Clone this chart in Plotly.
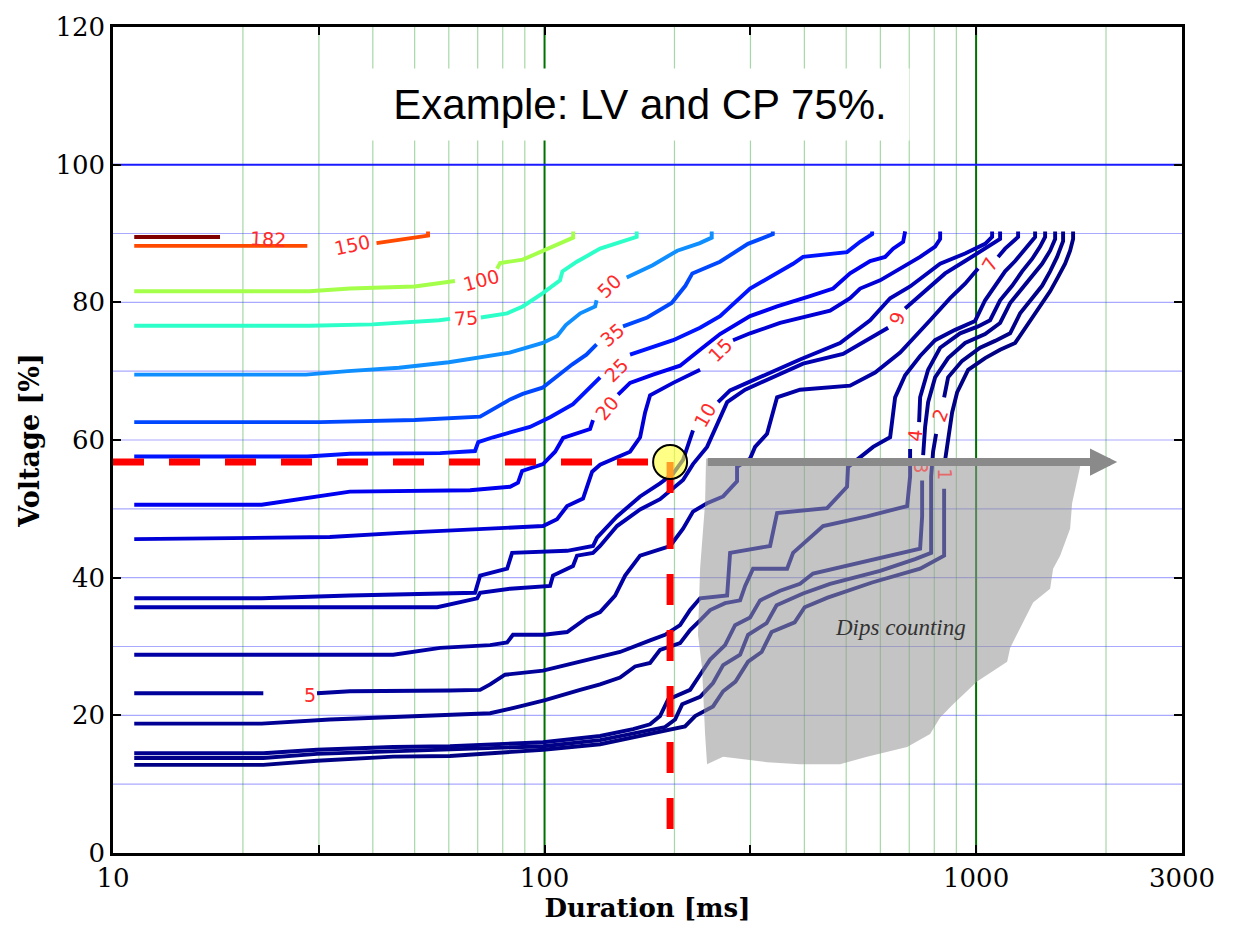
import numpy as np
import plotly.graph_objects as go

# ---------------- data: duration [ms], voltage [%] ----------------
dur_182 = [11.2, 17.7]
volt_182 = [89.5, 89.5]

dur_150 = [11.2, 28.2, None, 40.8, 46.3, 53.7, 53.7]
volt_150 = [88.2, 88.2, None, 88.6, 89.1, 89.7, 90.3]

dur_100 = [11.2, 28.5, 35.4, 50.0, 62.0, None, 77.6, 78.9, 89.0, 98.9, 116.5, 116.5]
volt_100 = [81.6, 81.6, 82.0, 82.3, 83.1, None, 84.9, 85.7, 86.2, 87.5, 89.4, 90.3]

dur_75 = [11.2, 28.5, 40.0, 50.0, 57.0, 60.4, None, 71.2, 81.9, 89.0, 98.9, 108.6, 110.0, 118.8, 134.5, 163.5, 163.5]
volt_75 = [76.6, 76.6, 76.8, 77.1, 77.4, 77.6, None, 77.8, 78.4, 79.4, 81.3, 83.2, 84.5, 85.9, 87.8, 89.5, 90.3]

dur_50 = [11.2, 28.0, 35.0, 46.0, 60.0, 83.0, 99.0, 107.0, 112.0, 121.0, 131.0, 132.0, None, 155.0, 178.0, 203.0, 229.0, 244.0, 244.0]
volt_50 = [69.5, 69.5, 70.0, 70.5, 71.3, 72.7, 74.1, 75.1, 76.7, 78.4, 79.4, 80.3, None, 83.6, 85.4, 87.5, 88.6, 89.4, 90.3]

dur_35 = [11.2, 30.2, 50.0, 67.2, 70.9, 83.2, 89.0, 98.9, 106.0, 116.0, 125.0, 132.0, None, 152.0, 173.0, 197.0, 212.0, 220.0, 255.0, 296.0, 338.0, 338.0]
volt_35 = [62.6, 62.6, 62.9, 63.3, 63.4, 65.9, 66.7, 67.6, 69.1, 71.0, 72.4, 73.9, None, 76.5, 77.8, 79.9, 82.4, 84.2, 85.9, 88.5, 89.9, 90.3]

dur_25 = [11.2, 28.2, 35.4, 57.3, 69.0, 70.2, 76.0, 92.5, 103.0, 116.4, 134.5, None, 157.8, 198.6, 229.3, 255.1, 299.4, 376.6, 397.2, 502.3, 538.6, 574.2, 574.2]
volt_25 = [57.6, 57.6, 58.0, 58.1, 58.4, 59.7, 60.4, 61.9, 63.3, 65.2, 69.1, None, 72.4, 74.5, 76.3, 78.0, 82.0, 85.6, 86.6, 87.3, 88.8, 89.9, 90.3]

dur_20 = [11.2, 22.1, 35.4, 67.2, 83.2, 86.8, 88.7, 99.2, 105.8, 110.4, 127.5, 129.5, None, 148.0, 157.8, 178.4, 206.1, 229.3, 255.1, 299.4, 345.8, 412.3, 466.3, 510.5, 568.1, 615.4, 642.3, 677.5, 684.8, 684.8]
volt_20 = [50.6, 50.6, 52.5, 52.7, 53.2, 53.8, 55.5, 56.5, 58.3, 60.3, 61.6, 62.9, None, 66.6, 68.3, 69.5, 70.8, 73.1, 75.4, 78.0, 79.4, 80.9, 82.0, 84.2, 86.0, 86.6, 87.8, 88.8, 89.9, 90.3]

dur_15 = [11.2, 31.8, 46.3, 99.2, 106.9, 112.8, 122.8, 128.9, 134.5, 157.8, 166.5, 171.0, 175.6, 198.6, 229.3, None, 273.4, 299.4, 351.4, 412.3, 458.8, 510.5, 538.6, 599.2, 666.8, 741.8, 803.6, 825.4, 825.4]
volt_15 = [45.6, 45.9, 46.5, 47.5, 48.5, 50.4, 51.5, 55.4, 56.4, 58.3, 60.4, 64.0, 66.5, 68.3, 70.2, None, 74.5, 75.5, 77.0, 78.0, 78.8, 80.6, 82.0, 83.2, 84.9, 86.6, 88.1, 89.2, 90.3]

dur_10 = [11.2, 22.1, 35.4, 69.0, 70.9, 81.9, 84.1, 112.8, 129.5, 132.3, 147.2, 166.5, 185.2, 198.6, 209.4, 217.4, 220.8, None, 252.4, 269.1, 294.7, 324.3, 390.9, 483.9, 568.1, 632.1, 703.2, 825.4, 943.0, 1049.3, 1089.2, 1089.2]
volt_10 = [37.0, 37.0, 37.4, 37.8, 40.3, 41.3, 43.6, 43.9, 44.6, 45.8, 48.9, 51.8, 53.7, 55.1, 57.1, 60.0, 61.4, None, 65.5, 67.2, 68.3, 69.5, 71.7, 74.1, 77.4, 80.6, 82.3, 85.6, 87.1, 88.5, 89.5, 90.3]

dur_9 = [11.2, 56.4, 69.8, 70.9, 83.2, 103.0, 104.6, 116.4, 118.9, 129.5, 134.5, 147.2, 166.5, 185.2, 209.4, 220.8, 238.0, 251.1, 264.9, 291.6, 338.5, 397.2, 491.7, 568.1, 625.4, None, 684.8, 761.8, 847.7, 943.0, 1049.3, 1136.6, 1136.6]
volt_9 = [35.7, 35.7, 37.0, 37.8, 38.4, 38.8, 40.3, 41.7, 43.2, 43.6, 44.6, 47.5, 49.9, 51.4, 54.2, 56.5, 59.0, 62.3, 65.5, 67.3, 69.1, 71.1, 72.5, 74.8, 76.3, None, 79.1, 81.6, 84.2, 86.0, 87.8, 89.2, 90.3]

dur_7 = [11.2, 44.6, 57.3, 74.8, 81.9, 84.5, 99.7, 112.8, 125.5, 134.5, 145.7, 153.7, 166.5, 195.4, 209.4, 220.8, 238.0, 259.3, 279.3, 279.3, 299.4, 307.5, 327.8, 345.8, 390.9, 510.5, 583.4, 666.8, 782.5, 870.6, 943.0, 1010.7, None, 1124.5, 1167.4, 1251.3, 1251.3]
volt_7 = [28.8, 28.8, 29.8, 30.2, 30.6, 31.7, 31.7, 32.1, 34.2, 35.0, 37.4, 40.3, 43.2, 44.6, 47.1, 49.6, 50.8, 51.8, 54.0, 56.1, 57.3, 59.0, 60.9, 66.2, 67.3, 67.9, 69.8, 72.7, 77.4, 80.6, 82.7, 84.9, None, 86.6, 87.8, 89.5, 90.3]

dur_5 = [11.2, 22.3, None, 29.7, 35.4, 60.4, 70.9, 74.8, 81.0, 99.2, 127.5, 149.6, 175.6, 190.2, 206.1, 217.4, 229.3, 264.9, 269.1, 333.1, 345.8, 451.6, 502.3, 505.0, 577.3, 632.1, 649.2, 684.8, 741.8, 803.6, 894.1, 994.7, 1049.3, 1106.6, 1167.4, 1231.5, 1298.8, 1370.0, 1370.0]
volt_5 = [23.2, 23.2, None, 23.2, 23.5, 23.6, 23.7, 24.5, 25.9, 26.5, 28.1, 29.2, 30.9, 31.7, 33.1, 35.3, 37.0, 37.4, 43.6, 44.6, 49.4, 50.1, 53.2, 56.1, 59.0, 60.4, 66.2, 69.4, 72.2, 74.5, 76.0, 77.3, 80.3, 82.4, 84.5, 86.0, 87.8, 89.5, 90.3]

dur_4 = [11.2, 22.1, 31.8, 57.3, 74.8, 87.7, 100.3, 120.9, 134.5, 149.6, 162.1, 175.6, 185.2, 206.1, 217.4, 229.3, 241.9, 262.0, 283.9, 291.6, 299.4, 304.2, 364.8, 376.6, 442.0, 559.0, 692.1, 703.2, 703.2, None, 737.8, 741.8, 774.2, 825.4, 918.3, 1010.7, 1077.6, 1136.6, 1211.9, 1278.3, 1348.3, 1407.1, 1445.2, 1445.2]
volt_4 = [18.8, 18.8, 19.4, 20.0, 20.3, 21.3, 22.2, 23.7, 24.5, 25.5, 27.1, 27.6, 29.5, 30.5, 32.4, 33.8, 35.3, 36.3, 36.7, 38.8, 40.3, 41.3, 41.3, 43.6, 47.5, 48.9, 50.4, 54.7, 58.7, None, 62.6, 66.2, 70.2, 73.4, 75.5, 76.5, 77.4, 80.3, 82.4, 84.5, 86.3, 88.1, 89.5, 90.3]

dur_3 = [11.2, 22.3, 29.7, 44.6, 60.4, 99.2, 134.5, 160.4, 175.6, 185.2, 193.3, 217.4, 229.3, 241.9, 262.0, 276.4, 299.4, 315.8, 351.4, 390.9, 419.0, 547.2, 666.8, 741.8, 749.8, 749.8, None, 753.9, 761.8, 774.2, 803.6, 861.3, 943.0, 1049.3, 1136.6, 1199.1, 1278.3, 1348.3, 1422.2, 1484.3, 1524.5, 1524.5]
volt_3 = [14.5, 14.5, 15.0, 15.4, 15.5, 16.1, 17.0, 18.0, 18.7, 19.9, 22.3, 23.7, 25.9, 28.1, 30.2, 33.1, 34.2, 36.7, 38.1, 39.1, 40.6, 42.3, 43.5, 44.2, 48.9, 54.1, None, 57.8, 61.9, 65.5, 69.1, 71.9, 74.1, 75.4, 77.0, 79.9, 82.0, 83.7, 85.6, 87.5, 89.2, 90.3]

dur_2 = [11.2, 22.3, 29.7, 44.6, 60.4, 99.2, 134.5, 160.4, 190.2, 200.7, 208.4, 229.3, 245.7, 259.3, 283.9, 296.2, 327.0, 344.9, 397.2, 458.8, 599.2, 722.3, 786.7, 786.7, 794.9, 807.9, None, 843.2, 861.3, 928.2, 1021.6, 1106.6, 1199.1, 1264.6, 1348.3, 1422.2, 1484.3, 1540.7, 1590.7, 1590.7]
volt_2 = [13.8, 13.8, 14.4, 14.8, 15.0, 15.5, 16.4, 17.3, 18.3, 19.4, 21.6, 22.7, 24.7, 27.3, 28.8, 31.7, 33.4, 36.0, 37.7, 39.1, 41.0, 42.7, 43.6, 54.7, 58.3, 60.9, None, 66.2, 69.1, 71.5, 73.4, 74.4, 75.5, 78.4, 80.6, 82.4, 84.5, 86.6, 88.9, 90.3]

dur_1 = [11.2, 22.3, 29.7, 44.6, 60.4, 99.2, 134.5, 160.4, 190.2, 211.6, 223.3, 245.7, 259.3, 277.0, 296.2, 318.4, 335.8, 379.8, 400.6, 452.8, 574.2, 741.8, 843.2, 843.2, None, 847.7, 861.3, 879.9, 903.6, 958.3, 1049.3, 1136.6, 1231.5, 1333.9, 1407.1, 1484.3, 1548.8, 1607.8, 1651.2, 1677.9, 1677.9]
volt_1 = [12.8, 12.8, 13.4, 14.0, 14.1, 15.0, 15.8, 16.8, 17.7, 18.4, 19.9, 21.3, 23.5, 24.9, 27.8, 29.2, 32.1, 33.5, 35.7, 37.1, 39.3, 41.3, 43.2, 52.9, None, 57.1, 60.4, 64.0, 66.9, 70.2, 71.9, 73.1, 74.1, 77.4, 79.4, 81.6, 83.7, 85.6, 87.5, 89.2, 90.3]

# contour labels
label_text = ["182", "150", "100", "75", "50", "35", "25", "20", "15", "10", "9", "7", "5", "4", "3", "2", "1"]
label_dur = [22.9, 35.8, 71.3, 65.8, 141.1, 143.4, 146.5, 139.6, 255.1, 235.5, 656.2, 1077.6, 28.6, 722.3, 745.7, 825.4, 843.2]
label_volt = [89.2, 88.4, 83.3, 77.7, 82.4, 75.3, 70.2, 64.6, 73.1, 63.6, 77.7, 85.5, 22.9, 60.7, 56.0, 63.6, 55.0]
label_angle = [3, -12, -15, -4, -45, -40, -45, -50, -45, -60, -70, -60, 0, -85, 90, -70, 90]

# grid
grid_minor_dur = [20, 30, 40, 50, 60, 70, 80, 90, 200, 300, 400, 500, 600, 700, 800, 900, 2000]
grid_major_dur = [100, 1000]
grid_volt = [10, 20, 30, 40, 50, 60, 70, 80, 90]
ref_volt = 100

# example point (LV and CP 75 %)
ex_dur = 195.4
ex_volt = 56.8
arrow_start_dur = 237
arrow_end_dur = 2123

# "dips counting" region outline
gray_dur = [236.7, 1741.8, 1741.8, 1723.2, 1669.0, 1651.2, 1565.6, 1508.2, 1484.3, 1355.5, 1285.0, 1199.1, 1180.2,
            1005.3, 884.6, 825.4, 782.5, 692.1, 559.0, 483.9, 390.9, 327.8, 259.3, 238.0, 235.5, 231.7, 226.8,
            229.3, 235.5, 236.7]
gray_volt = [57.3, 57.3, 56.1, 54.7, 50.8, 47.1, 43.2, 41.3, 38.4, 36.4, 33.5, 29.8, 27.8,
             24.9, 21.6, 19.7, 17.3, 15.4, 14.0, 12.9, 12.9, 13.2, 14.0, 12.9, 17.3, 26.9, 31.7,
             41.3, 50.8, 57.3]

curves = [
    ("182", dur_182, volt_182, "#800000"),
    ("150", dur_150, volt_150, "#ff4a00"),
    ("100", dur_100, volt_100, "#a4ff4a"),
    ("75", dur_75, volt_75, "#2cffc8"),
    ("50", dur_50, volt_50, "#0f8fff"),
    ("35", dur_35, volt_35, "#0048ff"),
    ("25", dur_25, volt_25, "#0014ff"),
    ("20", dur_20, volt_20, "#0000f0"),
    ("15", dur_15, volt_15, "#0000d6"),
    ("10", dur_10, volt_10, "#0000b8"),
    ("9", dur_9, volt_9, "#0000b0"),
    ("7", dur_7, volt_7, "#0000a4"),
    ("5", dur_5, volt_5, "#00009a"),
    ("4", dur_4, volt_4, "#000094"),
    ("3", dur_3, volt_3, "#00008e"),
    ("2", dur_2, volt_2, "#000088"),
    ("1", dur_1, volt_1, "#000084"),
]

fig = go.Figure()


def vlines(vals):
    xs, ys = [], []
    for v in vals:
        xs += [v, v, None]
        ys += [0, 120, None]
    return xs, ys


def hlines(vals):
    xs, ys = [], []
    for v in vals:
        xs += [10, 3000, None]
        ys += [v, v, None]
    return xs, ys


gx, gy = vlines(grid_minor_dur)
fig.add_trace(go.Scatter(x=gx, y=gy, mode="lines", line=dict(color="rgba(0,140,0,0.35)", width=1.2),
                         hoverinfo="skip", showlegend=False))
gx, gy = hlines(grid_volt)
fig.add_trace(go.Scatter(x=gx, y=gy, mode="lines", line=dict(color="rgba(40,40,255,0.40)", width=1.2),
                         hoverinfo="skip", showlegend=False))
gx, gy = vlines(grid_major_dur)
fig.add_trace(go.Scatter(x=gx, y=gy, mode="lines", line=dict(color="#007000", width=2),
                         hoverinfo="skip", showlegend=False))
gx, gy = hlines([ref_volt])
fig.add_trace(go.Scatter(x=gx, y=gy, mode="lines", line=dict(color="#1a1aff", width=2),
                         hoverinfo="skip", showlegend=False))

for name, xs, ys, col in curves:
    fig.add_trace(go.Scatter(x=xs, y=ys, mode="lines", name=name,
                             line=dict(color=col, width=3.9), connectgaps=False,
                             hoverinfo="skip", showlegend=False))

# translucent gray "dips counting" region
fig.add_trace(go.Scatter(x=gray_dur, y=gray_volt, mode="lines", fill="toself",
                         fillcolor="rgba(150,150,150,0.56)", line=dict(width=0, color="rgba(0,0,0,0)"),
                         hoverinfo="skip", showlegend=False))

# red dashed guides
fig.add_trace(go.Scatter(x=[10, ex_dur], y=[ex_volt, ex_volt], mode="lines",
                         line=dict(color="#ff0000", width=7, dash="31px,25px"),
                         hoverinfo="skip", showlegend=False))
fig.add_trace(go.Scatter(x=[ex_dur, ex_dur], y=[ex_volt, 0], mode="lines",
                         line=dict(color="#ff0000", width=7, dash="31px,25px"),
                         hoverinfo="skip", showlegend=False))

annotations = []
for t, d, v, a in zip(label_text, label_dur, label_volt, label_angle):
    col = "#e46a6a" if t in ("3", "1") else "#ff2a2a"
    annotations.append(dict(x=np.log10(d), y=v, xref="x", yref="y", text=t, showarrow=False,
                            textangle=a, font=dict(family="DejaVu Sans", size=19, color=col)))

# gray arrow
annotations.append(dict(x=np.log10(arrow_end_dur), y=ex_volt, ax=np.log10(arrow_start_dur), ay=ex_volt,
                        xref="x", yref="y", axref="x", ayref="y", text="", showarrow=True,
                        arrowhead=2, arrowsize=0.68, arrowwidth=8, arrowcolor="#8a8a8a", standoff=0))

# example point marker
fig.add_trace(go.Scatter(x=[ex_dur], y=[ex_volt], mode="markers",
                         marker=dict(size=34, color="rgba(255,255,60,0.62)", line=dict(color="black", width=2)),
                         hoverinfo="skip", showlegend=False))

annotations.append(dict(x=np.log10(666.8), y=32.7, xref="x", yref="y", text="Dips counting", showarrow=False,
                        font=dict(family="Liberation Serif", size=23, color="#333333", style="italic")))

annotations.append(dict(x=np.log10(166.5), y=108.8, xref="x", yref="y", text="Example: LV and CP 75%.",
                        showarrow=False, bgcolor="white", width=520, height=53, borderpad=9,
                        font=dict(family="Liberation Sans", size=42, color="black")))

fig.update_layout(
    width=1233, height=929,
    margin=dict(l=113, r=51, t=26, b=69),
    paper_bgcolor="white", plot_bgcolor="white",
    showlegend=False,
    annotations=annotations,
    xaxis=dict(type="log", range=[1, np.log10(3000)],
               tickvals=[10, 30, 100, 300, 1000, 3000], ticktext=["10", "", "100", "", "1000", "3000"],
               ticks="inside", ticklen=8, tickwidth=1.5, tickcolor="black",
               showgrid=False, zeroline=False, showline=True, linecolor="black", linewidth=2.5,
               mirror="allticks",
               tickfont=dict(family="DejaVu Serif", size=26, color="black"),
               title=dict(text="Duration [ms]", standoff=6,
                          font=dict(family="DejaVu Serif", size=26, color="black", weight="bold"))),
    yaxis=dict(range=[0, 120], tickvals=[0, 20, 40, 60, 80, 100, 120],
               ticks="inside", ticklen=8, tickwidth=1.5, tickcolor="black",
               showgrid=False, zeroline=False, showline=True, linecolor="black", linewidth=2.5,
               mirror="allticks",
               tickfont=dict(family="DejaVu Serif", size=26, color="black"),
               title=dict(text="Voltage [%]", standoff=8,
                          font=dict(family="DejaVu Serif", size=27, color="black", weight="bold"))),
)

fig.write_html("out.html")
